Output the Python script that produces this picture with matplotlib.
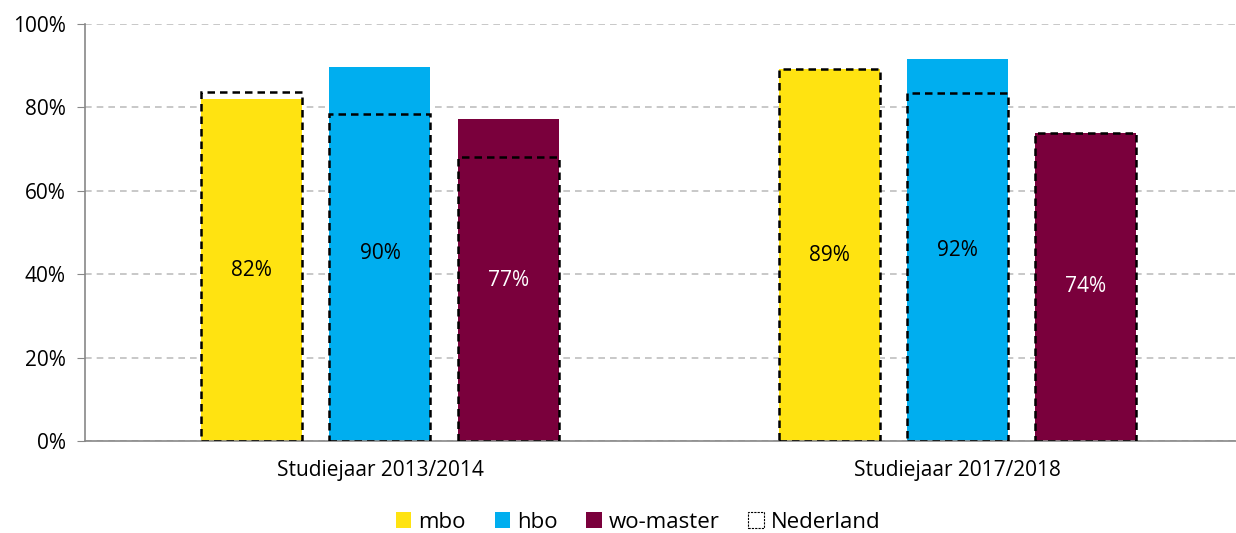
import matplotlib
matplotlib.use("Agg")
import matplotlib.pyplot as plt
from matplotlib.patches import Patch
import numpy as np

categories = ["Studiejaar 2013/2014", "Studiejaar 2017/2018"]
series = ["mbo", "hbo", "wo-master"]
values = {
    "mbo": [82.0, 89.2],
    "hbo": [89.7, 91.5],
    "wo-master": [77.2, 73.9],
}
nederland = {
    "mbo": [83.7, 89.2],
    "hbo": [78.4, 83.5],
    "wo-master": [68.2, 73.9],
}
labels = {
    "mbo": ["82%", "89%"],
    "hbo": ["90%", "92%"],
    "wo-master": ["77%", "74%"],
}
colors = {"mbo": "#FFE311", "hbo": "#00AEEF", "wo-master": "#7A003C"}
label_colors = {"mbo": "black", "hbo": "black", "wo-master": "white"}

plt.rcParams['font.family'] = ['Open Sans', 'DejaVu Sans']

fig = plt.figure(figsize=(12.36, 5.33), dpi=100)
ax = fig.add_axes([85/1236, 1-441/533, (1240-85)/1236, (441-24)/533])

x = np.arange(len(categories))
width = 0.175
offsets = [-0.222, 0.0, 0.222]

for s, off in zip(series, offsets):
    ax.bar(x + off, values[s], width, color=colors[s], zorder=2)
    ax.bar(x + off, nederland[s], width, facecolor='none', edgecolor='black',
           linestyle=(0, (3, 2)), linewidth=1.8, zorder=3)
    for xi, v, lab in zip(x, values[s], labels[s]):
        ax.text(xi + off, v / 2, lab, ha='center', va='center', fontsize=15,
                color=label_colors[s], zorder=4)

ax.set_ylim(0, 100)
ax.set_xlim(-0.511, 1.49)
ax.set_yticks(np.arange(0, 101, 20))
ax.set_yticklabels([f"{v}%" for v in range(0, 101, 20)], fontsize=15)
ax.set_xticks(x)
ax.set_xticklabels(categories, fontsize=15)
ax.tick_params(axis='x', length=0, pad=14)
ax.tick_params(axis='y', length=6, color='#888888', pad=8)
ax.yaxis.grid(True, linestyle=(0, (4, 3)), color='#BFBFBF', linewidth=1.2, zorder=0)
ax.set_axisbelow(True)
for sp in ['top', 'right']:
    ax.spines[sp].set_visible(False)
ax.spines['left'].set_color('#888888')
ax.spines['bottom'].set_color('#888888')
ax.spines['left'].set_linewidth(1.2)
ax.spines['bottom'].set_linewidth(1.2)

handles = [Patch(facecolor=colors[s], label=s) for s in series]
handles.append(Patch(facecolor='none', edgecolor='black', linestyle=(0, (2, 1)),
                     linewidth=0.8, label='Nederland'))
fig.legend(handles=handles, loc='center', bbox_to_anchor=(638/1236, 1-522/533),
           ncol=4, frameon=False, fontsize=16, handlelength=0.7, handleheight=0.7,
           handletextpad=0.3, columnspacing=1.3)

fig.savefig("out.png", dpi=100)
